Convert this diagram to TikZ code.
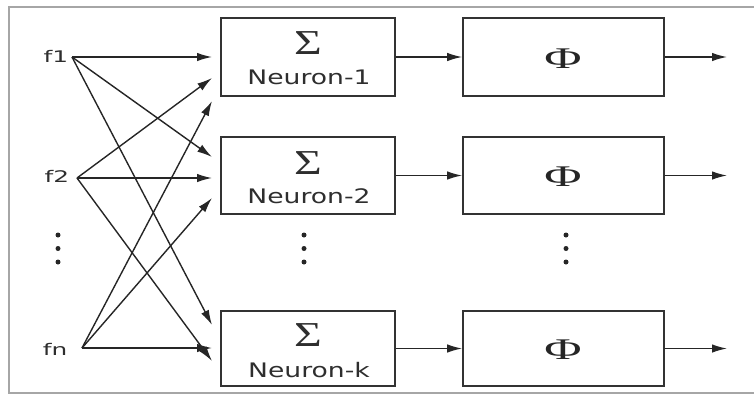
\documentclass[tikz,border=0pt]{standalone}
\usepackage{fontspec}
\newfontfamily\dvs{DejaVu Sans}
\newfontfamily\lserif{Liberation Serif}
\usetikzlibrary{arrows.meta}
\begin{document}
\begin{tikzpicture}[x=1pt,y=-1pt,
  box/.style={draw=black!80, line width=1.7pt, inner sep=0pt},
  nbox/.style={box, minimum width=174pt},
  pbox/.style={box, minimum width=201pt},
  conn/.style={draw=black!85, line width=1.4pt, -{Latex[length=15pt,width=8.5pt]}},
  lbl/.style={inner sep=0pt, text=black!82},
  dotm/.style={circle, fill=black!85, inner sep=0pt, minimum size=5pt}
]
\useasboundingbox (0,0) rectangle (754,394);
\draw[black!35, line width=1.2pt] (754,7) -- (9,7) -- (9,393) -- (754,393);

% neuron boxes
\node[nbox, minimum height=78pt] (n1) at (308,57) {};
\node[nbox, minimum height=77pt] (n2) at (308,175.5) {};
\node[nbox, minimum height=75pt] (nk) at (308,348.5) {};
% activation boxes
\node[pbox, minimum height=78pt] (p1) at (563.5,57) {};
\node[pbox, minimum height=77pt] (p2) at (563.5,175.5) {};
\node[pbox, minimum height=75pt] (pk) at (563.5,348.5) {};

% sigma and labels
\node[lbl] (s1) at (308,43.5) {\scalebox{1.36}[1]{\lserif\fontsize{35}{35}\selectfont Σ}};
\node[lbl] (t1) at (309,77.5) {\scalebox{1.33}[1]{\dvs\fontsize{20}{20}\selectfont Neuron-1}};
\node[lbl] (s2) at (308,163) {\scalebox{1.36}[1]{\lserif\fontsize{35}{35}\selectfont Σ}};
\node[lbl] (t2) at (309,196.5) {\scalebox{1.33}[1]{\dvs\fontsize{20}{20}\selectfont Neuron-2}};
\node[lbl] (sk) at (308,335) {\scalebox{1.36}[1]{\lserif\fontsize{35}{35}\selectfont Σ}};
\node[lbl] (tk) at (309,370.5) {\scalebox{1.33}[1]{\dvs\fontsize{20}{20}\selectfont Neuron-k}};

% phi
\node[lbl, text=black!85] (f1p) at (563,59) {\scalebox{1.7}[1]{\lserif\fontsize{30}{30}\selectfont Φ}};
\node[lbl, text=black!85] (f2p) at (563,177) {\scalebox{1.7}[1]{\lserif\fontsize{30}{30}\selectfont Φ}};
\node[lbl, text=black!85] (fkp) at (563,350) {\scalebox{1.7}[1]{\lserif\fontsize{30}{30}\selectfont Φ}};

% inputs
\node[lbl] (i1) at (56,56) {\scalebox{1.55}[1]{\dvs\fontsize{16}{16}\selectfont f1}};
\node[lbl] (i2) at (57,176) {\scalebox{1.55}[1]{\dvs\fontsize{16}{16}\selectfont f2}};
\node[lbl] (in) at (55,349) {\scalebox{1.55}[1]{\dvs\fontsize{16}{16}\selectfont fn}};

\coordinate (a1) at (72,57);
\coordinate (a2) at (77,178);
\coordinate (an) at (82,348);

% input arrow ends
\coordinate (e11) at (212,57);
\coordinate (e21) at (212,78);
\coordinate (en1) at (212,101);
\coordinate (e12) at (212,157);
\coordinate (e22) at (212,178);
\coordinate (en2) at (212,198);
\coordinate (e1k) at (212,325);
\coordinate (enk) at (212,348);
\coordinate (e2k) at (212,361);

\draw[conn] (a1) -- (e11);
\draw[conn] (a1) -- (e12);
\draw[conn] (a1) -- (e1k);
\draw[conn] (a2) -- (e21);
\draw[conn] (a2) -- (e22);
\draw[conn] (a2) -- (e2k);
\draw[conn] (an) -- (en1);
\draw[conn] (an) -- (en2);
\draw[conn] (an) -- (enk);

% neuron to activation
\draw[conn] (n1.east) -- (p1.west);
\draw[conn] (n2.east) -- (p2.west);
\draw[conn] (nk.east) -- (pk.west);

% outputs
\coordinate (o1) at (727,57);
\coordinate (o2) at (727,175.5);
\coordinate (ok) at (727,348.5);
\draw[conn] (p1.east) -- (o1);
\draw[conn] (p2.east) -- (o2);
\draw[conn] (pk.east) -- (ok);

% vertical dots
\foreach \yy [count=\i] in {235,248.5,262} {
  \node[dotm] (dl\i) at (58,\yy) {};
  \node[dotm] (dm\i) at (304,\yy) {};
  \node[dotm] (dr\i) at (566,\yy) {};
}
\end{tikzpicture}
\end{document}
